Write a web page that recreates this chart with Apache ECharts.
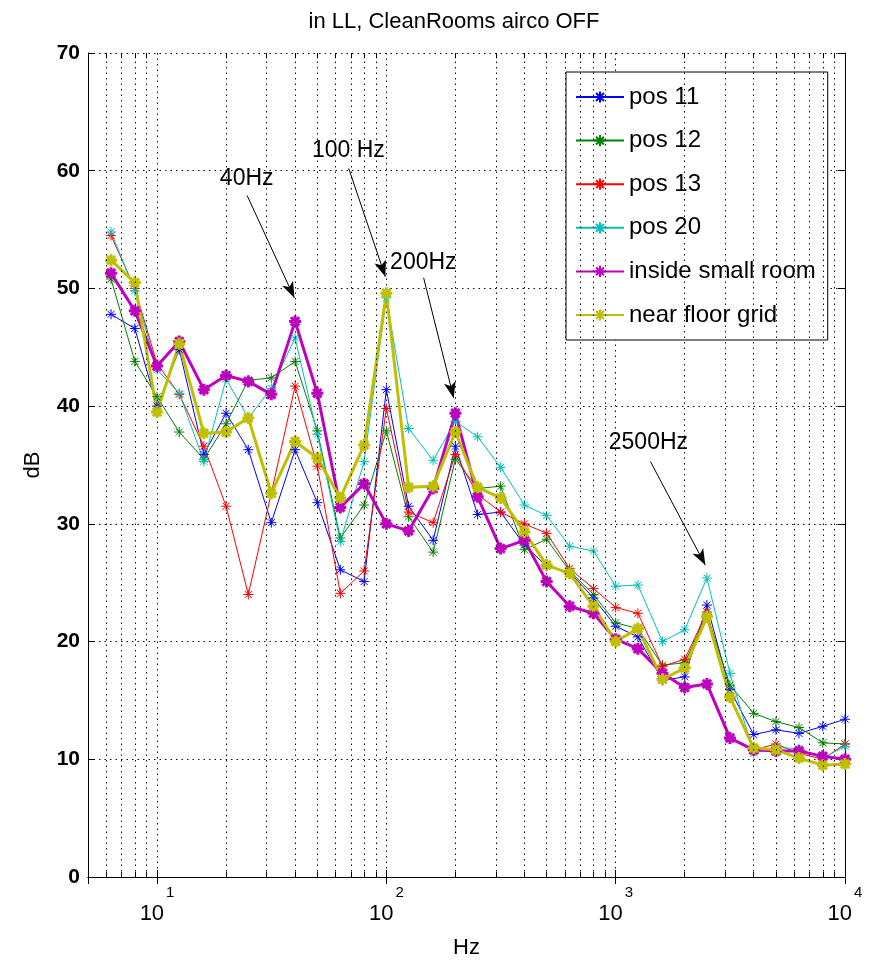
<!DOCTYPE html>
<html>
<head>
<meta charset="utf-8">
<script src="https://cdn.jsdelivr.net/npm/echarts@6/dist/echarts.min.js"></script>
<style>
  html, body { margin: 0; padding: 0; background: #fff; }
  #chart { width: 873px; height: 968px; }
</style>
</head>
<body>
<div id="chart"></div>
<script>
// 1/3-octave band centre frequencies (Hz)
const freqs = [6.3, 8, 10, 12.5, 16, 20, 25, 31.5, 40, 50, 63, 80, 100, 125, 160, 200, 250,
  315, 400, 500, 630, 800, 1000, 1250, 1600, 2000, 2500, 3150, 4000, 5000, 6300, 8000, 10000]

// levels in dB
const pos11 = [47.8, 46.6, 40.0, 44.8, 35.9, 39.4, 36.3, 30.1, 36.3, 31.8, 26.1, 25.1, 41.4, 31.5, 28.6, 36.6, 30.8,
  31.0, 28.2, 26.4, 25.9, 23.7, 21.3, 20.4, 16.7, 17.0, 23.1, 15.9, 12.1, 12.5, 12.2, 12.8, 13.4]
const pos12 = [50.8, 43.8, 40.8, 37.8, 35.5, 38.5, 42.2, 42.4, 43.8, 37.9, 28.8, 31.6, 37.9, 30.6, 27.6, 35.5, 33.0,
  33.2, 27.8, 28.7, 26.0, 24.0, 21.6, 21.1, 18.0, 18.2, 22.3, 16.3, 13.9, 13.2, 12.7, 11.4, 11.3]
const pos13 = [54.5, 50.0, 43.6, 41.0, 36.6, 31.5, 24.0, 32.6, 41.7, 34.9, 24.1, 26.0, 39.8, 31.0, 30.1, 35.9, 32.5,
  31.0, 30.0, 29.2, 26.2, 24.5, 22.9, 22.4, 17.9, 18.5, 22.5, 15.3, 10.8, 11.3, 10.5, 10.0, 11.3]
const pos20 = [54.8, 49.8, 43.1, 41.1, 35.3, 42.3, 39.0, 41.5, 45.8, 37.6, 28.5, 35.3, 49.2, 38.1, 35.4, 38.7, 37.4,
  34.8, 31.6, 30.7, 28.1, 27.7, 24.7, 24.8, 20.0, 21.0, 25.4, 17.3, 10.5, 11.0, 10.9, 10.1, 11.1]
const insideRoom = [51.3, 48.1, 43.4, 45.5, 41.4, 42.6, 42.1, 41.0, 47.2, 41.1, 31.4, 33.4, 30.0, 29.4, 33.0, 39.4, 32.3,
  27.9, 28.6, 25.1, 23.0, 22.4, 20.2, 19.4, 17.3, 16.1, 16.4, 11.8, 10.8, 10.7, 10.7, 10.25, 10.0]
const floorGrid = [52.4, 50.5, 39.5, 45.3, 37.7, 37.8, 39.0, 32.6, 37.0, 35.6, 32.2, 36.7, 49.6, 33.1, 33.2, 37.8, 33.1,
  32.2, 29.3, 26.5, 25.8, 23.0, 20.0, 21.1, 16.8, 17.75, 22.1, 15.3, 10.95, 10.8, 10.1, 9.5, 9.6]

const seriesNames = ['pos 11', 'pos 12', 'pos 13', 'pos 20', 'inside small room', 'near floor grid']
const seriesColors = ['#0000ff', '#008000', '#ff0000', '#00bfbf', '#bf00bf', '#bfbf00']

// minor log grid lines (2..9 x 10^n)
const minorGrid = [6, 7, 8, 9, 20, 30, 40, 50, 60, 70, 80, 90, 200, 300, 400, 500, 600, 700, 800, 900,
  2000, 3000, 4000, 5000, 6000, 7000, 8000, 9000]

// annotation texts and arrows, in data coordinates [Hz, dB]
const noteTexts = [
  { text: '40Hz', at: [24.6, 59.3] },
  { text: '100 Hz', at: [68.3, 61.7] },
  { text: '200Hz', at: [145, 52.2] },
  { text: '2500Hz', at: [1389, 36.9] },
]
const noteArrows = [
  [[24.7, 57.9], [39.7, 49.2]],
  [[68.5, 60.2], [99, 51.0]],
  [[145.4, 50.9], [196.6, 40.7]],
  [[1417, 35.3], [2460, 26.5]],
]

const FONT = '"Liberation Sans", Arial, Helvetica, sans-serif'
const ASTERISK = 'path://M10,0L10,20M0,10L20,10M3,3L17,17M3,17L17,3'
const dotted = { color: '#111', width: 1, type: [1.5, 4] }

const chart = echarts.init(document.getElementById('chart'), null, { renderer: 'canvas' })

function lineSeries(name, values, color, thick) {
  return {
    name: name,
    type: 'line',
    data: freqs.map((f, i) => [f, values[i]]),
    xAxisIndex: 0,
    yAxisIndex: 0,
    symbol: ASTERISK,
    symbolSize: thick ? 12 : 10,
    showAllSymbol: true,
    lineStyle: { color: color, width: thick ? 3 : 1 },
    itemStyle: { color: color, borderColor: color, borderWidth: thick ? 3 : 1 },
    emphasis: { disabled: true },
    z: 3,
  }
}

const allValues = [pos11, pos12, pos13, pos20, insideRoom, floorGrid]
const series = allValues.map((vals, i) => lineSeries(seriesNames[i], vals, seriesColors[i], i >= 4))

// helper series carrying the minor grid, minor ticks and the annotations
const tickStyle = { type: 'solid', color: '#000' }
series.unshift({
  name: 'guides',
  type: 'line',
  data: [],
  silent: true,
  z: 1,
  markLine: {
    silent: true,
    animation: false,
    symbol: ['none', 'none'],
    label: { show: false },
    emphasis: { disabled: true },
    lineStyle: dotted,
    data: minorGrid.map((f) => [{ coord: [f, 0] }, { coord: [f, 70] }])
      .concat(minorGrid.map((f) => [
        { coord: [f, 0], lineStyle: tickStyle },
        { coord: [f, 0.45], lineStyle: tickStyle },
      ]))
      .concat(minorGrid.map((f) => [
        { coord: [f, 70], lineStyle: tickStyle },
        { coord: [f, 69.55], lineStyle: tickStyle },
      ])),
  },
})

series.push({
  name: 'notes',
  type: 'line',
  data: [],
  silent: true,
  z: 5,
  markLine: {
    silent: true,
    animation: false,
    symbol: ['none', 'arrow'],
    symbolSize: [9, 16],
    label: { show: false },
    emphasis: { disabled: true },
    lineStyle: { color: '#000', width: 1, type: 'solid' },
    data: noteArrows.map((a) => [{ coord: a[0] }, { coord: a[1] }]),
  },
  markPoint: {
    silent: true,
    animation: false,
    symbol: 'circle',
    symbolSize: 1,
    itemStyle: { color: 'rgba(0,0,0,0)' },
    label: {
      show: true,
      position: 'inside',
      formatter: '{b}',
      color: '#000',
      fontSize: 23,
      fontFamily: FONT,
    },
    data: noteTexts.map((n) => ({ name: n.text, coord: n.at })),
  },
})

function isPow10(v) {
  const l = Math.log10(v)
  return Math.abs(l - Math.round(l)) < 1e-6
}

chart.setOption({
  animation: false,
  backgroundColor: '#fff',
  title: {
    text: 'in LL, CleanRooms airco OFF',
    left: 449,
    top: 6,
    textAlign: 'center',
    textStyle: { fontSize: 22, fontWeight: 'normal', color: '#000', fontFamily: FONT },
  },
  legend: {
    data: seriesNames,
    orient: 'vertical',
    left: 566,
    top: 72,
    padding: [13, 12, 13, 9],
    itemWidth: 48,
    itemHeight: 14,
    itemGap: 19.6,
    borderColor: '#000',
    borderWidth: 1,
    backgroundColor: '#fff',
    textStyle: { fontSize: 24, lineHeight: 24, color: '#000', fontFamily: FONT },
    selectedMode: false,
  },
  grid: { left: 88, right: 28, top: 53, bottom: 91, containLabel: false },
  xAxis: [
    {
      type: 'log',
      logBase: 10,
      min: 5,
      max: 10000,
      name: 'Hz',
      nameLocation: 'middle',
      nameGap: 60,
      nameTextStyle: { fontSize: 22, color: '#000', fontFamily: FONT },
      axisLine: { lineStyle: { color: '#000', width: 1 } },
      axisTick: { inside: true, length: 7, lineStyle: { color: '#000' } },
      axisLabel: {
        margin: 8,
        color: '#000',
        fontFamily: FONT,
        formatter: (v) => isPow10(v) ? '{b|10}{e|' + Math.round(Math.log10(v)) + '}' : '',
        rich: {
          b: { fontSize: 22, lineHeight: 40, verticalAlign: 'bottom', fontFamily: FONT, color: '#000' },
          e: { fontSize: 15, lineHeight: 40, verticalAlign: 'top', fontFamily: FONT, color: '#000', padding: [0, 0, 0, 2] },
        },
      },
      splitLine: { show: true, lineStyle: dotted },
    },
    {
      type: 'log',
      logBase: 10,
      min: 5,
      max: 10000,
      position: 'top',
      axisLine: { lineStyle: { color: '#000', width: 1 } },
      axisTick: { inside: true, length: 7, lineStyle: { color: '#000' } },
      axisLabel: { show: false },
      splitLine: { show: false },
    },
  ],
  yAxis: [
    {
      type: 'value',
      min: 0,
      max: 70,
      interval: 10,
      name: 'dB',
      nameLocation: 'middle',
      nameGap: 44,
      nameTextStyle: { fontSize: 22, color: '#000', fontFamily: FONT },
      axisLine: { show: true, lineStyle: { color: '#000', width: 1 } },
      axisTick: { show: true, inside: true, length: 7, lineStyle: { color: '#000' } },
      axisLabel: { margin: 8, fontSize: 21, fontWeight: 'bold', color: '#000', fontFamily: FONT },
      splitLine: { show: true, lineStyle: dotted },
    },
    {
      type: 'value',
      min: 0,
      max: 70,
      interval: 10,
      position: 'right',
      axisLine: { show: true, lineStyle: { color: '#000', width: 1 } },
      axisTick: { show: true, inside: true, length: 7, lineStyle: { color: '#000' } },
      axisLabel: { show: false },
      splitLine: { show: false },
    },
  ],
  series: series,
})
</script>
</body>
</html>
